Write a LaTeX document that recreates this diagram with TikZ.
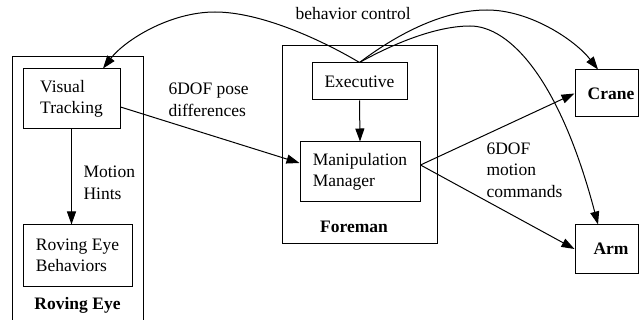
\documentclass[tikz,border=0pt]{standalone}
\usepackage{fontspec}
\setmainfont{Liberation Serif}
\usetikzlibrary{arrows.meta,calc}
\begin{document}
\begin{tikzpicture}[x=1pt,y=-1pt, line width=1pt,
  every node/.style={font=\fontsize{17.5}{21.5}\selectfont},
  box/.style={draw, inner sep=0pt, align=left},
  frame/.style={draw, inner sep=0pt},
  lbl/.style={inner sep=0pt, align=left, anchor=west},
  boldtext/.style={font=\fontsize{17.5}{21.5}\selectfont\bfseries, inner sep=0pt},
  arr/.style={-{Triangle[length=13pt,width=9pt]}}]
\useasboundingbox (0,0) rectangle (639,320);
% containers
\coordinate (rebl) at (12,320);
\coordinate (rebr) at (143,320);
\draw (rebl) |- (143,57) -- (rebr);
\node[frame, minimum width=155pt, minimum height=197pt] (foreman) at (359.5,144.5) {};
% boxes
\node[box, minimum width=97pt, minimum height=60pt] (vt) at (71.5,99) {Visual\\Tracking};
\node[box, minimum width=109pt, minimum height=61pt] (reb) at (77.5,255.5) {Roving Eye\\Behaviors};
\node[box, minimum width=95pt, minimum height=37pt] (exec) at (359.5,81.5) {Executive};
\node[box, minimum width=120pt, minimum height=60pt] (mm) at (360,172) {Manipulation\\Manager};
\node[frame, minimum width=63pt, minimum height=47pt] (crane) at (606.5,93.5) {};
\node[boldtext] (cranet) at (611,93.5) {Crane};
\node[frame, minimum width=63pt, minimum height=48pt] (arm) at (606.5,249) {};
\node[boldtext] (armt) at (611,249) {Arm};
\node[boldtext] (foremant) at (354,227) {Foreman};
\node[boldtext] (revt) at (77.5,305) {Roving Eye};
% labels
\node[lbl] (bc) at (295,14) {behavior control};
\node[lbl] (pose) at (168,100) {6DOF pose\\differences};
\node[lbl] (hints) at (83,183) {Motion\\Hints};
\node[lbl] (cmd) at (486,170) {6DOF\\motion\\commands};
% anchor points
\coordinate (vtin) at ($(vt.north)+(31.5,0)$);
\coordinate (cranein) at ($(crane.north)+(-8.5,0)$);
\coordinate (armin) at ($(arm.north)+(-8.5,0)$);
\coordinate (vtout) at ($(vt.east)+(0,8)$);
\coordinate (mmin) at ($(mm.west)+(0,-9)$);
\coordinate (mmout) at ($(mm.east)+(0,-7)$);
% connectors
\draw[arr] (vtout) -- (mmin);
\draw[arr] (exec.south) -- (mm.north);
\draw[arr] (vt.south) -- (vt.south |- reb.north);
\draw[arr] (mmout) -- (crane.west);
\draw[arr] (mmout) -- (arm.west);
\draw[arr] (exec.north) .. controls (320,39) and (260,12) .. (215,12) .. controls (170,12) and (125,40) .. (vtin);
\draw[arr] (exec.north) .. controls (400,32) and (445,10) .. (487,10) .. controls (530,10) and (575,40) .. (cranein);
\draw[arr] (exec.north) .. controls (400,40) and (440,26) .. (470,26) .. controls (510,26) and (560,80) .. (armin);
\end{tikzpicture}
\end{document}
